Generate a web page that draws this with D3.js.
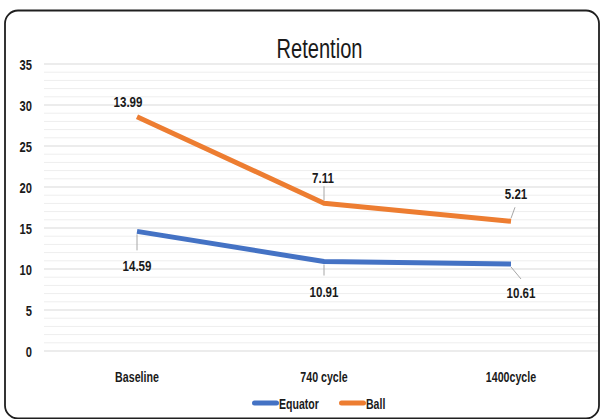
<!DOCTYPE html>
<html>
<head>
<meta charset="utf-8">
<script src="https://cdn.jsdelivr.net/npm/d3@7"></script>
<style>
  body { margin: 0; background: #fff; }
  text { font-family: "Liberation Sans", Arial, sans-serif; }
</style>
</head>
<body>
<div id="chart"></div>
<script>
const categories = ['Baseline', '740 cycle', '1400cycle'];
const equator = [14.59, 10.91, 10.61];
const ball = [13.99, 7.11, 5.21];
const yTicks = [0, 5, 10, 15, 20, 25, 30, 35];
const seriesNames = ['Equator', 'Ball'];
const colors = ['#4472C4', '#ED7D31'];

const width = 601;
const height = 419;
const plot = { left: 43.5, right: 604.5, top: 64, bottom: 351 };

const svg = d3.select('#chart').append('svg')
  .attr('width', width)
  .attr('height', height);

// narrow text helper (the original uses a condensed face)
function label(g, x0, y0, str, size, weight, anchor, sx) {
  return g.append('text')
    .attr('transform', `translate(${x0},${y0}) scale(${sx},1)`)
    .attr('text-anchor', anchor)
    .style('font-size', size + 'px')
    .style('font-weight', weight)
    .style('fill', '#1a1a1a')
    .text(str);
}

// frame
svg.append('rect')
  .attr('x', 5).attr('y', 10.5)
  .attr('width', 594).attr('height', 408)
  .attr('rx', 13)
  .style('fill', '#fff')
  .style('stroke', '#1f1f1f')
  .style('stroke-width', 1.8);

const x = d3.scaleBand()
  .domain(categories)
  .range([plot.left, plot.right]);

const cx = d => x(d) + x.bandwidth() / 2;

const y = d3.scaleLinear()
  .domain([0, 35])
  .range([plot.bottom, plot.top]);

// minor gridlines
svg.append('g').selectAll('line')
  .data(d3.range(0, 36, 1).filter(v => v % 5 !== 0))
  .join('line')
  .attr('x1', 44).attr('x2', 598)
  .attr('y1', d => y(d)).attr('y2', d => y(d))
  .style('stroke', '#eeeeee')
  .style('stroke-width', 1);

// major gridlines
svg.append('g').selectAll('line')
  .data(yTicks)
  .join('line')
  .attr('x1', 44).attr('x2', 598)
  .attr('y1', d => y(d)).attr('y2', d => y(d))
  .style('stroke', '#d9d9d9')
  .style('stroke-width', 1);

// y tick labels
yTicks.forEach(t => label(svg, 32, y(t) + 5.5, t, 15.5, 'bold', 'end', 0.72));

// category labels
categories.forEach(c => label(svg, cx(c), 381.5, c, 15, 'bold', 'middle', 0.71));

// title
label(svg, 319.5, 58, 'Retention', 27.5, 'normal', 'middle', 0.73);

// stacked values
const stacked = [equator, equator.map((v, i) => v + ball[i])];

const line = d3.line()
  .x((d, i) => cx(categories[i]))
  .y(d => y(d));

svg.append('g').selectAll('path')
  .data(stacked)
  .join('path')
  .attr('d', d => line(d))
  .style('fill', 'none')
  .style('stroke', (d, i) => colors[i])
  .style('stroke-width', 5)
  .style('stroke-linejoin', 'round');

// data labels: [dx, dy] of label baseline from the point, and leader end
const labelOffsets = [
  [[0, 40], [0, 35.5], [10, 34.5]],
  [[-9, -10], [-1, -20], [5, -22]],
];
const leaderEnds = [
  [[0, 19], [0, 14], [10, 15]],
  [null, [0, -17], [4, -14]],
];
const labelValues = [equator, ball];

labelValues.forEach((vals, s) => {
  vals.forEach((v, i) => {
    const px = cx(categories[i]);
    const py = y(stacked[s][i]);
    const [dx, dy] = labelOffsets[s][i];
    const lead = leaderEnds[s][i];
    if (lead) {
      const sgn = lead[1] > 0 ? 1 : -1;
      svg.append('line')
        .attr('x1', px).attr('y1', py + sgn * 3)
        .attr('x2', px + lead[0]).attr('y2', py + lead[1])
        .style('stroke', '#a6a6a6')
        .style('stroke-width', 1);
    }
    label(svg, px + dx, py + dy, d3.format('.2f')(v), 15, 'bold', 'middle', 0.77);
  });
});

// legend
const legendX = [253, 340];
seriesNames.forEach((name, i) => {
  const g = svg.append('g').attr('transform', `translate(${legendX[i]}, 403)`);
  g.append('line')
    .attr('x1', 1.5).attr('x2', 23.5)
    .attr('y1', 0).attr('y2', 0)
    .style('stroke', colors[i])
    .style('stroke-width', 5)
    .style('stroke-linecap', 'round');
  label(g, 26, 5.5, name, 15.5, 'bold', 'start', 0.68);
});
</script>
</body>
</html>
